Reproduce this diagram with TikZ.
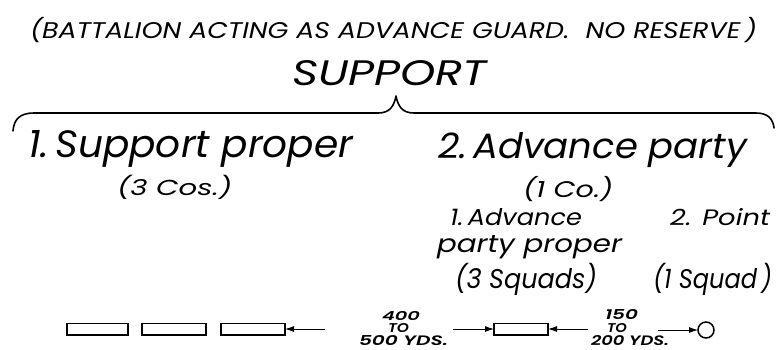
\documentclass[tikz,border=0pt]{standalone}
\usepackage{fontspec}
\usepackage{graphicx}
\newfontfamily\lett{Poppins}[UprightFont=* Italic]
\newfontfamily\lettb{Poppins}[UprightFont=* SemiBold Italic]
\usetikzlibrary{arrows.meta}
\newcommand{\fitt}[3]{\resizebox{#1pt}{#2pt}{\lett #3}}
\newcommand{\fitb}[3]{\resizebox{#1pt}{#2pt}{\lettb #3}}
\newcommand{\lp}{\smash{(}}
\newcommand{\rp}{\smash{)}}
\begin{document}
\begin{tikzpicture}[x=1pt,y=-1pt,
  lbl/.style={inner sep=0pt,outer sep=0pt,anchor=base west},
  unit/.style={draw,line width=1.5pt,minimum width=#1,minimum height=11.5pt,inner sep=0pt,outer sep=0pt},
  unit/.default=61pt,
  arr/.style={line width=0.9pt,-{Latex[length=9pt,width=6pt]}},
  brace/.style={line width=1.6pt,line cap=round,line join=round}]
\useasboundingbox (0,0) rectangle (776,349);
% texts
\node[lbl] (title) at (30,38) {\fitt{727}{16}{\lp BATTALION ACTING AS ADVANCE GUARD.\ \ NO RESERVE\,\rp}};
\node[lbl] (support) at (292,85) {\fitt{195}{25}{SUPPORT}};
\node[lbl] (sp) at (28,157) {\fitt{325}{27}{1.\,Support proper}};
\node[lbl] (spc) at (117,195) {\fitt{115}{16}{\lp 3 Cos.\rp}};
\node[lbl] (ap) at (438,158) {\fitt{309}{26}{2.\,Advance party}};
\node[lbl] (apc) at (523,197) {\fitt{90}{16}{\lp 1 Co.\rp}};
\node[lbl] (app1) at (450,225) {\fitt{132}{17}{1.\,Advance}};
\node[lbl] (app2) at (437,252) {\fitt{185}{17}{party proper}};
\node[lbl] (pt) at (670,225) {\fitt{100}{17}{2. Point}};
\node[lbl] (apps) at (455,288) {\fitt{142}{20}{\lp 3 Squads\rp}};
\node[lbl] (pts) at (653,288) {\fitt{119}{20}{\lp 1 Squad\,\rp}};
% distances
\node[lbl] (d1a) at (382,320) {\fitb{38}{9}{400}};
\node[lbl] (d1b) at (388,332) {\fitb{21}{9}{TO}};
\node[lbl] (d1c) at (359,345) {\fitb{89}{10}{500 YDS.}};
\node[lbl] (d2a) at (605,319) {\fitb{33}{10}{150}};
\node[lbl] (d2b) at (607,332) {\fitb{20}{9}{TO}};
\node[lbl] (d2c) at (591,345) {\fitb{78}{10}{200 YDS.}};
% brace
\coordinate (bl) at (13,131);
\coordinate (br) at (774,128);
\coordinate (bt) at (396,96);
\draw[brace] (bl) .. controls (14,119) and (20,113) .. (34,113)
  -- (378,113) .. controls (390,113) and (394,106) .. (bt)
  .. controls (398,106) and (402,113) .. (414,113)
  -- (756,113) .. controls (768,113) and (773,119) .. (br);
% units
\node[unit] (r1) at (97.5,329) {};
\node[unit=64pt] (r2) at (174,329) {};
\node[unit=64pt] (r3) at (253,329) {};
\node[unit=54pt] (r4) at (521,329) {};
\node[draw,circle,line width=1.5pt,minimum size=16pt,inner sep=0pt,outer sep=0pt] (pc) at (706,330) {};
\coordinate (a1) at (325,329);
\coordinate (a2) at (453,329);
\coordinate (a3) at (588,329);
\coordinate (a4) at (658,330);
\draw[arr] (a1) -- (r3.east);
\draw[arr] (a2) -- (r4.west);
\draw[arr] (a3) -- (r4.east);
\draw[arr] (a4) -- (pc.west);
\end{tikzpicture}
\end{document}
